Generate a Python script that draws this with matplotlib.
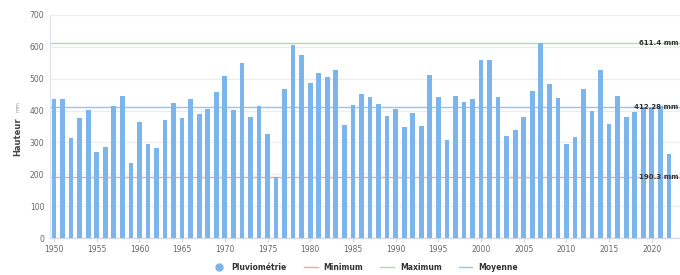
import numpy as np
import matplotlib
matplotlib.use("Agg")
import matplotlib.pyplot as plt
from matplotlib.lines import Line2D
import matplotlib.transforms as mtransforms

# Annual rainfall (mm)
years = list(range(1950, 2023))
rain = [435, 437, 313, 376, 401, 270, 286, 415, 445, 235,
        365, 294, 281, 370, 424, 376, 435, 390, 406, 458,
        509, 401, 550, 379, 414, 327, 190.3, 468, 605, 574,
        487, 519, 504, 526, 356, 418, 451, 442, 420, 382,
        406, 347, 391, 352, 513, 442, 307, 446, 427, 435,
        558, 558, 443, 319, 338, 380, 460, 611.4, 482, 438,
        294, 318, 468, 400, 527, 358, 446, 380, 397, 412,
        408, 414, 263]

ref_names = ["Minimum", "Maximum", "Moyenne"]
ref_values = [190.3, 611.4, 412.28]
ref_labels = ["190.3 mm", "611.4 mm", "412.28 mm"]
ref_colors = ["#f4a6a6", "#a8e39a", "#8ec8f6"]

bar_color = "#7cb5ec"
text_color = "#666666"

fig = plt.figure(figsize=(6.8, 2.75), dpi=100)
ax = fig.add_axes([50 / 680, 37 / 275, 630 / 680, 223 / 275])

ax.bar(years, rain, width=0.55, color=bar_color, zorder=2)

for v, c in zip(ref_values, ref_colors):
    ax.axhline(v, color=c, lw=1.0, zorder=1)

trans = mtransforms.blended_transform_factory(ax.transAxes, ax.transData)
for v, lab in zip(ref_values, ref_labels):
    ax.text(0.997, v, lab, transform=trans, ha="right", va="center",
            fontsize=5, fontweight="bold", color="#333333", zorder=3,
            clip_on=False)

ax.set_xlim(1949.53, 2023.3)
ax.set_ylim(0, 700)
ax.set_yticks(np.arange(0, 701, 100))
ax.set_xticks(np.arange(1950, 2021, 5))
ax.tick_params(axis="both", labelsize=5.5, colors=text_color, length=0, pad=4)
ax.tick_params(axis="x", length=3, color="#ccd6eb", pad=2)

ax.grid(axis="y", color="#ececec", lw=0.8, zorder=0)
for s in ["top", "right"]:
    ax.spines[s].set_visible(False)
ax.spines["left"].set_color("#dbe6f5")
ax.spines["left"].set_linewidth(0.8)
ax.spines["bottom"].set_color("#ccd6eb")
ax.spines["bottom"].set_linewidth(0.8)

fig.text(18 / 680, 1 - 137 / 275, "Hauteur", rotation=90, ha="center",
         va="center", fontsize=6, fontweight="bold", color="#444444")
fig.text(18 / 680, 1 - 106 / 275, "mm", rotation=90, ha="center",
         va="center", fontsize=4, color="#999999")

handles = [Line2D([], [], marker="o", ls="none", color=bar_color, markersize=5)]
handles += [Line2D([], [], color=c, lw=1.0) for c in ref_colors]
fig.legend(handles, ["Pluviométrie"] + ref_names, loc="center",
           bbox_to_anchor=(365 / 680, 1 - 267 / 275), ncol=4, frameon=False,
           handlelength=1.8, columnspacing=2.2,
           prop={"size": 5.5, "weight": "bold"}, labelcolor="#333333")

fig.savefig("out.png", dpi=100)
